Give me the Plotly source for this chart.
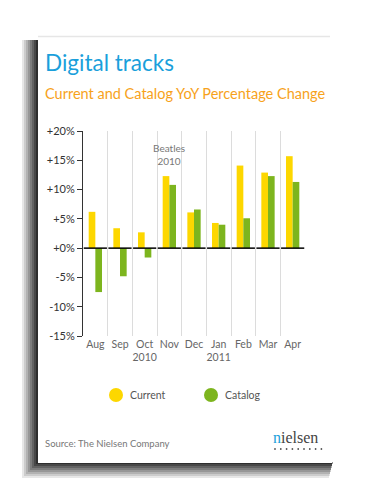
import plotly.graph_objects as go

# ---- data ----
months = ["Aug", "Sep", "Oct", "Nov", "Dec", "Jan", "Feb", "Mar", "Apr"]
month_labels = ["Aug", "Sep", "Oct<br>2010", "Nov", "Dec", "Jan<br>2011", "Feb", "Mar", "Apr"]
current = [6.2, 3.4, 2.7, 12.3, 6.1, 4.3, 14.1, 12.9, 15.7]
catalog = [-7.5, -4.8, -1.6, 10.8, 6.6, 4.0, 5.1, 12.3, 11.3]
y_ticks = [-15, -10, -5, 0, 5, 10, 15, 20]
y_tick_labels = ["-15%", "-10%", "-5%", "+0%", "+5%", "+10%", "+15%", "+20%"]

YELLOW = "#FDD700"
GREEN = "#7DB51E"
BLUE = "#1A9FDB"
ORANGE = "#F7A21B"

OFF = 8  # default page body margin
W, H = 377 - OFF, 503 - OFF
# plot area in page pixels
L, R, T, B = 83, 305, 131, 336


def px(x):
    return (x - L) / (R - L)


def py(y):
    return (B - y) / (B - T)


fig = go.Figure()
fig.add_trace(go.Bar(x=months, y=current, name="Current", marker_color=YELLOW,
                     marker_line_width=0, showlegend=False))
fig.add_trace(go.Bar(x=months, y=catalog, name="Catalog", marker_color=GREEN,
                     marker_line_width=0, showlegend=False))

shapes = []
# card shadow (left and bottom)
steps = 8
for i in range(steps):
    op = 0.10 + 0.11 * i
    shapes.append(dict(type="rect", xref="paper", yref="paper",
                       x0=px(22 + 2 * i), x1=px(24 + 2 * i), y0=py(478 - 2 * i), y1=py(40),
                       fillcolor=f"rgba(15,15,15,{op:.2f})", line_width=0, layer="below"))
    shapes.append(dict(type="rect", xref="paper", yref="paper",
                       x0=px(24 + 2 * i), x1=px(333 - 0.5 * (steps - i)),
                       y0=py(478 - 2 * i), y1=py(476 - 2 * i),
                       fillcolor=f"rgba(15,15,15,{op:.2f})", line_width=0, layer="below"))
# card
shapes.append(dict(type="rect", xref="paper", yref="paper",
                   x0=px(38), x1=px(332), y0=py(463), y1=py(37),
                   fillcolor="white", line_width=0, layer="below"))
shapes.append(dict(type="line", xref="paper", yref="paper",
                   x0=px(38), x1=px(330), y0=py(36.5), y1=py(36.5),
                   line=dict(color="#e6e6e6", width=1.5), layer="below"))
# zero line segments
for i in range(len(months)):
    shapes.append(dict(type="line", xref="x", yref="y", x0=i - 0.47, x1=i + 0.47, y0=0, y1=0,
                       line=dict(color="black", width=1.5), layer="above"))
# legend circles
for cx, col in [(116, YELLOW), (211, GREEN)]:
    shapes.append(dict(type="circle", xref="paper", yref="paper",
                       x0=px(cx - 7), x1=px(cx + 7), y0=py(402), y1=py(388),
                       fillcolor=col, line_width=0))
# nielsen logo dots
for k in range(9):
    cx = 275 + k * 5.8
    shapes.append(dict(type="circle", xref="paper", yref="paper",
                       x0=px(cx - 0.9), x1=px(cx + 0.9), y0=py(449.9), y1=py(448.1),
                       fillcolor="#555", line_width=0))

annotations = [
    dict(text="Digital tracks", x=px(43), y=py(63), xref="paper", yref="paper",
         xanchor="left", yanchor="middle", showarrow=False,
         font=dict(family="Lato", size=22.5, color=BLUE)),
    dict(text="Current and Catalog YoY Percentage Change", x=px(43), y=py(93),
         xref="paper", yref="paper", xanchor="left", yanchor="middle", showarrow=False,
         font=dict(family="Lato", size=14.5, color=ORANGE)),
    dict(text="Beatles<br>2010", x="Nov", y=16.0, xref="x", yref="y", showarrow=False,
         font=dict(family="Lato", size=10, color="#777"), align="center"),
    dict(text="Current", x=px(128), y=py(395), xref="paper", yref="paper",
         xanchor="left", yanchor="middle", showarrow=False,
         font=dict(family="Lato", size=10.5, color="#555")),
    dict(text="Catalog", x=px(223), y=py(395), xref="paper", yref="paper",
         xanchor="left", yanchor="middle", showarrow=False,
         font=dict(family="Lato", size=10.5, color="#555")),
    dict(text="Source: The Nielsen Company", x=px(43), y=py(443), xref="paper", yref="paper",
         xanchor="left", yanchor="middle", showarrow=False,
         font=dict(family="Lato", size=9.5, color="#777")),
    dict(text="<span style='color:#1A9FDB'>n</span>ielsen", x=px(271), y=py(437),
         xref="paper", yref="paper", xanchor="left", yanchor="middle", showarrow=False,
         font=dict(family="Liberation Serif", size=16, color="#444")),
]

fig.update_layout(
    width=W, height=H,
    margin=dict(l=L - OFF, r=W - (R - OFF), t=T - OFF, b=H - (B - OFF), pad=0, autoexpand=False),
    paper_bgcolor="white", plot_bgcolor="rgba(0,0,0,0)",
    barmode="group", bargap=0.46, bargroupgap=0,
    shapes=shapes, annotations=annotations,
    showlegend=False,
    font=dict(family="Lato", color="#555"),
    xaxis=dict(type="category", tickmode="array", tickvals=months, ticktext=month_labels,
               tickson="boundaries", showgrid=True, gridcolor="#dcdcdc", gridwidth=1,
               ticks="", showline=False, zeroline=False, tickangle=0, automargin=False,
               tickfont=dict(family="Lato", size=10.5, color="#666")),
    yaxis=dict(range=[-15, 20], tickmode="array", tickvals=y_ticks, ticktext=y_tick_labels,
               showgrid=False, zeroline=False, showline=True, linecolor="#333", linewidth=1,
               ticks="outside", ticklen=5, tickcolor="#333", automargin=False,
               tickfont=dict(family="Lato", size=11, color="#333")),
)

fig.write_html("out.html")
